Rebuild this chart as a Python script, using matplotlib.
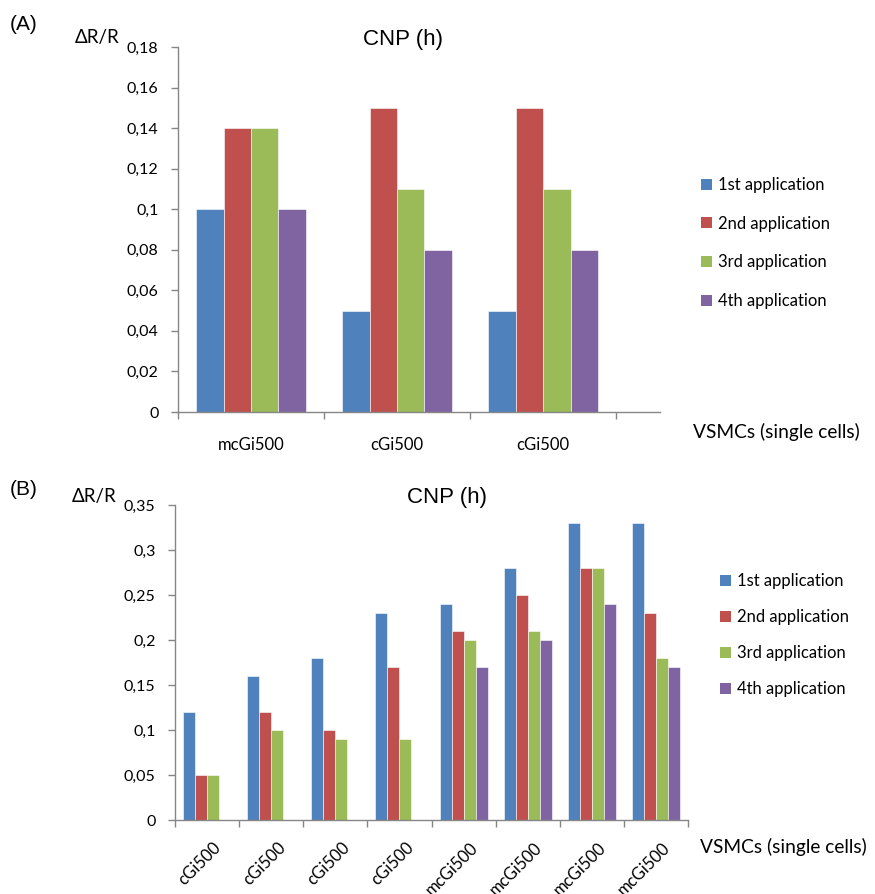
import numpy as np
import matplotlib
matplotlib.use("Agg")
import matplotlib.pyplot as plt
import matplotlib.transforms as mtransforms
from matplotlib.patches import Patch

# data
series = ["1st application", "2nd application", "3rd application", "4th application"]
colors = ["#4F81BD", "#C0504D", "#9BBB59", "#8064A2"]

cats_a = ["mcGi500", "cGi500", "cGi500"]
vals_a = [
    [0.10, 0.05, 0.05],
    [0.14, 0.15, 0.15],
    [0.14, 0.11, 0.11],
    [0.10, 0.08, 0.08],
]
yticks_a = [0, 0.02, 0.04, 0.06, 0.08, 0.10, 0.12, 0.14, 0.16, 0.18]

cats_b = ["cGi500", "cGi500", "cGi500", "cGi500",
          "mcGi500", "mcGi500", "mcGi500", "mcGi500"]
vals_b = [
    [0.12, 0.16, 0.18, 0.23, 0.24, 0.28, 0.33, 0.33],
    [0.05, 0.12, 0.10, 0.17, 0.21, 0.25, 0.28, 0.23],
    [0.05, 0.10, 0.09, 0.09, 0.20, 0.21, 0.28, 0.18],
    [0.00, 0.00, 0.00, 0.00, 0.17, 0.20, 0.24, 0.17],
]
yticks_b = [0, 0.05, 0.10, 0.15, 0.20, 0.25, 0.30, 0.35]

LAB = ["Lato", "DejaVu Sans"]
ARI = ["Liberation Sans", "DejaVu Sans"]
GRAY = "#868686"


def fmt(v):
    s = ("%.2f" % v).rstrip("0").rstrip(".")
    return s.replace(".", ",")


def draw(fig, ax, cats, vals, yticks, xmax, rot):
    n = len(cats)
    x = np.arange(n)
    w = 0.75 / 4
    for i, v in enumerate(vals):
        ax.bar(x - 0.375 + w * (i + 0.5), v, width=w, color=colors[i],
               edgecolor="white", linewidth=0.4)
    ax.set_xlim(-0.5, xmax)
    ax.set_ylim(0, yticks[-1])
    ax.set_yticks(yticks)
    ax.set_yticklabels([fmt(v) for v in yticks], family=LAB, fontsize=11.5)
    ax.set_xticks(np.arange(n + 1) - 0.5)
    ax.set_xticklabels([])
    ax.set_xticks(x, minor=True)
    if rot:
        # the reference also lets the long labels run off the bottom edge
        labs = ax.set_xticklabels(cats, minor=True, rotation=45, ha="right",
                                  rotation_mode="anchor", family=LAB, fontsize=12)
        ax.tick_params(axis="x", which="minor", length=0, pad=14)
        off = mtransforms.ScaledTranslation(6 / 100, 0, fig.dpi_scale_trans)
        for t in labs:
            t.set_transform(t.get_transform() + off)
    else:
        ax.set_xticklabels(cats, minor=True, family=LAB, fontsize=12)
        ax.tick_params(axis="x", which="minor", length=0, pad=18)
    for s in ["top", "right"]:
        ax.spines[s].set_visible(False)
    for s in ["left", "bottom"]:
        ax.spines[s].set_color(GRAY)
        ax.spines[s].set_linewidth(1.0)
    ax.tick_params(axis="both", which="major", color=GRAY, length=5, width=1.0)
    ax.tick_params(axis="y", pad=9)


fig = plt.figure(figsize=(8.75, 8.94), dpi=100)

ax1 = fig.add_axes([178 / 875, 1 - 412 / 894, 482 / 875, 365 / 894])
draw(fig, ax1, cats_a, vals_a, yticks_a, 2.8, False)

ax2 = fig.add_axes([175 / 875, 1 - 820 / 894, 513 / 875, 315 / 894])
draw(fig, ax2, cats_b, vals_b, yticks_b, 7.5, True)

# texts
fig.text(10 / 875, 1 - 25 / 894, "(A)", family=ARI, fontsize=15, va="center")
fig.text(10 / 875, 1 - 490 / 894, "(B)", family=ARI, fontsize=15, va="center")
fig.text(75 / 875, 1 - 38 / 894, "\u0394R/R", family=LAB, fontsize=13.5, va="center")
fig.text(72 / 875, 1 - 497 / 894, "\u0394R/R", family=LAB, fontsize=13.5, va="center")
fig.text(403 / 875, 1 - 40 / 894, "CNP (h)", family=ARI, fontsize=16, ha="center", va="center")
fig.text(447 / 875, 1 - 498 / 894, "CNP (h)", family=ARI, fontsize=16, ha="center", va="center")
fig.text(693 / 875, 1 - 432 / 894, "VSMCs (single cells)", family=LAB, fontsize=13.8, va="center")
fig.text(700 / 875, 1 - 847 / 894, "VSMCs (single cells)", family=LAB, fontsize=13.8, va="center")

handles = [Patch(facecolor=c, edgecolor="none") for c in colors]
leg_kw = dict(frameon=False, handlelength=0.62, handleheight=0.62,
              handletextpad=0.4, borderpad=0, prop={"family": LAB, "size": 12})
fig.legend(handles, series, loc="center left",
           bbox_to_anchor=(693 / 875, 1 - 243 / 894), labelspacing=1.36, **leg_kw)
fig.legend(handles, series, loc="center left",
           bbox_to_anchor=(712 / 875, 1 - 635 / 894), labelspacing=1.2, **leg_kw)

fig.savefig("out.png", dpi=100)
